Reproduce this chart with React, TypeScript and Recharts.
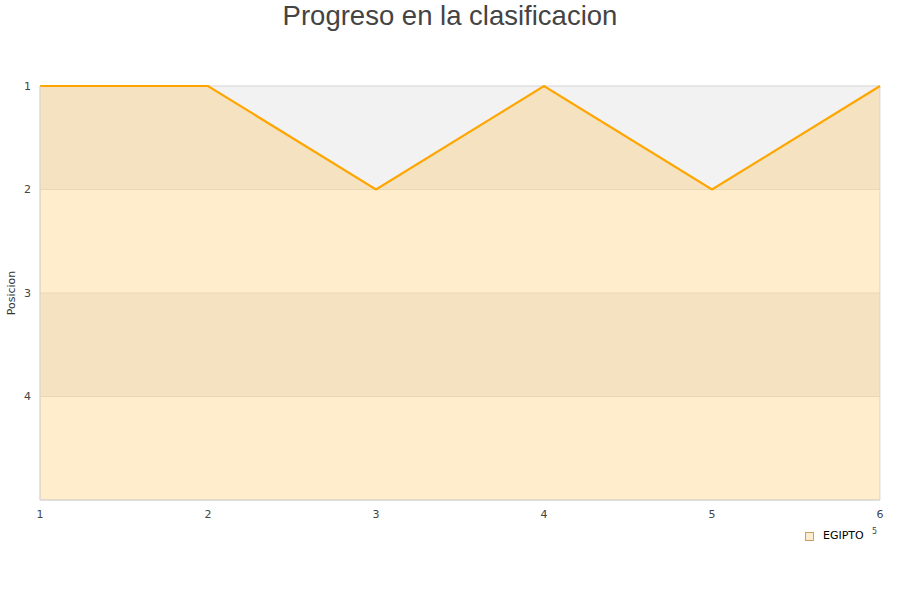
import { ComposedChart, Area, XAxis, YAxis, CartesianGrid, ReferenceArea } from 'recharts'

// Jornadas y posición del equipo en cada una
const jornadas = [1, 2, 3, 4, 5, 6]
const posiciones = [1, 1, 2, 1, 2, 1]
const yTicks = [1, 2, 3, 4]
const equipo = 'EGIPTO'

const data = jornadas.map((j, i) => ({ jornada: j, posicion: posiciones[i] }))

const font = '"Liberation Sans", Arial, sans-serif'
const tickStyle = { fill: '#444', fontSize: 11, fontFamily: '"DejaVu Sans", sans-serif' }

export default function App() {
  return (
    <div style={{ position: 'absolute', left: 0, top: 0, width: 900, height: 600, background: '#fff', fontFamily: font }}>
      <div
        style={{
          position: 'absolute',
          top: 0,
          left: 0,
          width: 900,
          textAlign: 'center',
          fontSize: 27.5,
          lineHeight: '31px',
          color: '#444',
        }}
      >
        Progreso en la clasificacion
      </div>
      <div
        style={{
          position: 'absolute',
          left: 11,
          top: 293,
          transform: 'translate(-50%, -50%) rotate(-90deg)',
          fontSize: 11,
          color: '#333',
          fontFamily: '"DejaVu Sans", sans-serif',
          whiteSpace: 'nowrap',
        }}
      >
        Posicion
      </div>
      <ComposedChart
        width={900}
        height={600}
        data={data}
        margin={{ top: 86, right: 20, bottom: 70, left: 0 }}
      >
        <CartesianGrid
          vertical={false}
          stroke="#e4e4e4"
          horizontalFill={['#f2f2f2', '#ffffff']}
          fillOpacity={1}
        />
        <XAxis
          dataKey="jornada"
          type="number"
          domain={[1, 6]}
          ticks={jornadas}
          height={30}
          axisLine={{ stroke: '#d8d8d8' }}
          tickLine={false}
          tickMargin={4}
          tick={tickStyle}
        />
        <YAxis
          type="number"
          domain={[1, 5]}
          reversed
          ticks={yTicks}
          width={40}
          axisLine={{ stroke: '#d8d8d8' }}
          tickLine={false}
          tickMargin={3}
          tick={tickStyle}
        />
        <ReferenceArea x1={1} x2={6} y1={1} y2={5} fill="none" stroke="#dddddd" />
        <Area
          type="linear"
          dataKey="posicion"
          baseValue={5}
          stroke="#FFA500"
          strokeWidth={2.2}
          fill="#FFA500"
          fillOpacity={0.2}
          dot={false}
          activeDot={false}
          isAnimationActive={false}
        />
      </ComposedChart>
      <div
        style={{
          position: 'absolute',
          left: 805,
          top: 532,
          width: 7,
          height: 7,
          background: '#feecce',
          border: '1px solid #c8a060',
        }}
      />
      <div
        style={{
          position: 'absolute',
          left: 823,
          top: 529,
          fontSize: 11,
          lineHeight: '14px',
          color: '#000',
          fontFamily: '"DejaVu Sans", sans-serif',
        }}
      >
        {equipo}
      </div>
      <div
        style={{
          position: 'absolute',
          left: 872,
          top: 527,
          fontSize: 8,
          lineHeight: '10px',
          color: '#444',
          fontFamily: '"DejaVu Sans", sans-serif',
        }}
      >
        5
      </div>
    </div>
  )
}
